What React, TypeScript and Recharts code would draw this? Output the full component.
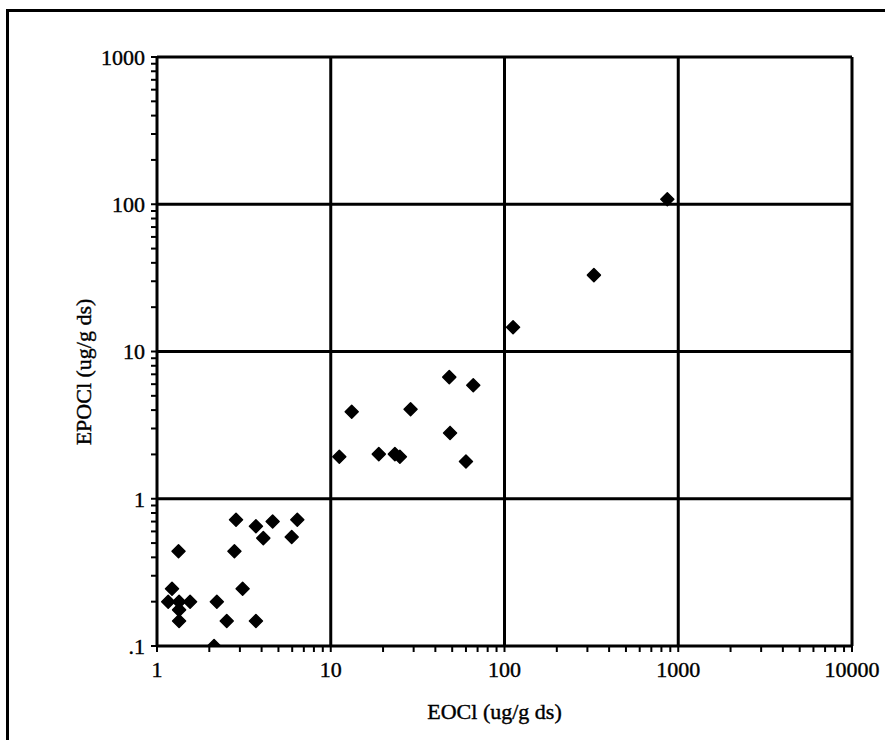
import React from "react";
import {
	ScatterChart,
	Scatter,
	XAxis,
	YAxis,
	ReferenceLine,
} from "recharts";

// EOCl (x) vs EPOCl (y), ug/g ds
const eocl = [
	1.33, 1.22, 1.16, 1.34, 1.55, 1.34, 1.34, 2.21, 2.13, 2.52, 3.11, 2.79,
	2.85, 3.71, 4.09, 4.63, 5.96, 6.42, 3.71, 11.2, 13.2, 18.9, 23.4, 25.0,
	28.8, 48.1, 66.1, 48.6, 60.0, 112, 327, 865,
];
const epocl = [
	0.44, 0.245, 0.2, 0.2, 0.2, 0.176, 0.148, 0.2, 0.1, 0.148, 0.245, 0.44,
	0.72, 0.65, 0.54, 0.7, 0.55, 0.72, 0.148, 1.93, 3.9, 2.01, 2.01, 1.93,
	4.05, 6.7, 5.9, 2.8, 1.79, 14.6, 33, 108,
];

const xMajor = [1, 10, 100, 1000, 10000];
const xLabels = ["1", "10", "100", "1000", "10000"];
const yMajor = [0.1, 1, 10, 100, 1000];
const yLabels = [".1", "1", "10", "100", "1000"];
const steps = [1, 2, 3, 4, 5, 6, 7, 8, 9];

const withMinor = (majors: number[]) => [
	...majors.slice(0, -1).flatMap((d) => steps.map((m) => m * d)),
	majors[majors.length - 1],
];
const xTicks = withMinor(xMajor);
const yTicks = withMinor(yMajor);

const data = eocl.map((x, i) => ({ x, y: epocl[i] }));

const FONT = "'Liberation Serif', 'Times New Roman', serif";

const labelFor = (majors: number[], labels: string[]) => (v: number) => {
	const i = majors.findIndex((m) => Math.abs(v - m) / m < 1e-6);
	return i >= 0 ? labels[i] : "";
};

const Diamond = (props: any) => {
	const { cx, cy } = props;
	const r = 6.5;
	return (
		<path
			d={`M${cx},${cy - r}L${cx + r},${cy}L${cx},${cy + r}L${cx - r},${cy}Z`}
			fill='#000'
			stroke='#000'
			strokeWidth={1.5}
			strokeLinejoin='round'
		/>
	);
};

const axisLine = { stroke: "#000", strokeWidth: 3 };
const tickLine = { stroke: "#000", strokeWidth: 2 };
// scan makes the type look heavy, a thin stroke imitates it
const tickFont = {
	fill: "#000",
	stroke: "#000",
	strokeWidth: 0.4,
	fontSize: 22,
	fontFamily: FONT,
};

export default function App() {
	return (
		<div
			style={{
				position: "fixed",
				left: 0,
				top: 0,
				width: 885,
				height: 740,
				background: "#fff",
			}}>
			<div
				style={{
					position: "absolute",
					left: 6,
					top: 9,
					right: 0,
					bottom: 0,
					borderLeft: "3px solid #000",
					borderTop: "3px solid #000",
				}}
			/>
			<div style={{ position: "absolute", left: 0, top: 0 }}>
				<ScatterChart
					width={885}
					height={740}
					margin={{ top: 56, right: 32, bottom: 64, left: 77 }}>
					<XAxis
						xAxisId='b'
						dataKey='x'
						type='number'
						scale='log'
						domain={[1, 10000]}
						allowDataOverflow
						ticks={xTicks}
						interval={0}
						height={30}
						axisLine={axisLine}
						tickLine={tickLine}
						tickSize={6}
						tickMargin={9}
						tick={tickFont}
						tickFormatter={labelFor(xMajor, xLabels)}
						label={{
							content: (p: any) => (
								<text
									x={p.viewBox.x + p.viewBox.width / 2 - 10}
									y={719}
									textAnchor='middle'
									fontSize={22}
									fontFamily={FONT}
									fill='#000'
									stroke='#000'
									strokeWidth={0.4}>
									EOCl (ug/g ds)
								</text>
							),
						}}
					/>
					<XAxis
						xAxisId='t'
						orientation='top'
						type='number'
						scale='log'
						domain={[1, 10000]}
						allowDataOverflow
						ticks={xTicks}
						interval={0}
						height={1}
						axisLine={axisLine}
						tickLine={tickLine}
						tickSize={6}
						tick={false}
					/>
					<YAxis
						yAxisId='l'
						dataKey='y'
						type='number'
						scale='log'
						domain={[0.1, 1000]}
						allowDataOverflow
						ticks={yTicks}
						interval={0}
						width={80}
						axisLine={axisLine}
						tickLine={tickLine}
						tickSize={6}
						tickMargin={6}
						tick={tickFont}
						tickFormatter={labelFor(yMajor, yLabels)}
						label={{
							content: () => (
								<text
									x={0}
									y={0}
									transform='translate(91 372) rotate(-90)'
									textAnchor='middle'
									fontSize={22}
									fontFamily={FONT}
									fill='#000'
									stroke='#000'
									strokeWidth={0.4}>
									EPOCl (ug/g ds)
								</text>
							),
						}}
					/>
					<YAxis
						yAxisId='r'
						orientation='right'
						type='number'
						scale='log'
						domain={[0.1, 1000]}
						allowDataOverflow
						ticks={yTicks}
						interval={0}
						width={1}
						axisLine={axisLine}
						tickLine={tickLine}
						tickSize={6}
						tick={false}
					/>
					{xMajor.slice(1, -1).map((v) => (
						<ReferenceLine
							key={`x${v}`}
							xAxisId='b'
							yAxisId='l'
							x={v}
							stroke='#000'
							strokeWidth={3}
						/>
					))}
					{yMajor.slice(1, -1).map((v) => (
						<ReferenceLine
							key={`y${v}`}
							xAxisId='b'
							yAxisId='l'
							y={v}
							stroke='#000'
							strokeWidth={3}
						/>
					))}
					<Scatter
						data={data}
						xAxisId='b'
						yAxisId='l'
						shape={<Diamond />}
						isAnimationActive={false}
					/>
				</ScatterChart>
			</div>
		</div>
	);
}
